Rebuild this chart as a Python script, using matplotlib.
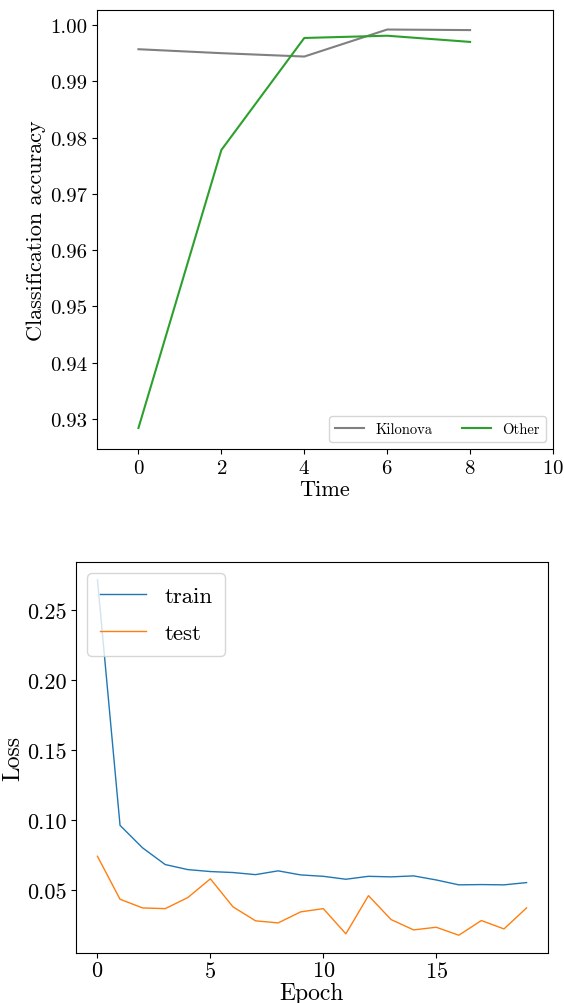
import matplotlib
matplotlib.use("Agg")
import matplotlib.pyplot as plt

# --- Data ---
time_steps = [0, 2, 4, 6, 8]
acc_kilonova = [0.9957, 0.9950, 0.9944, 0.9992, 0.9991]
acc_other = [0.9284, 0.9778, 0.9977, 0.9981, 0.9970]

epochs = list(range(20))
train_loss = [0.2716, 0.0961, 0.0800, 0.0681, 0.0645, 0.0631, 0.0624, 0.0609,
              0.0636, 0.0607, 0.0597, 0.0576, 0.0597, 0.0593, 0.0600, 0.0571,
              0.0536, 0.0538, 0.0536, 0.0552]
test_loss = [0.0740, 0.0433, 0.0371, 0.0366, 0.0445, 0.0579, 0.0379, 0.0279,
             0.0264, 0.0343, 0.0366, 0.0186, 0.0459, 0.0288, 0.0214, 0.0233,
             0.0176, 0.0281, 0.0221, 0.0371]

# LaTeX-like look without a TeX install
plt.rcParams["font.family"] = "serif"
plt.rcParams["font.serif"] = ["cmr10", "DejaVu Serif"]
plt.rcParams["mathtext.fontset"] = "cm"
plt.rcParams["axes.formatter.use_mathtext"] = True
plt.rcParams["axes.unicode_minus"] = False

fig = plt.figure(figsize=(5.64, 10.04), dpi=100)

# 1) accuracy vs time
ax1 = fig.add_axes([97 / 564, 1 - 450 / 1004, 456 / 564, 439 / 1004])
ax1.plot(time_steps, acc_kilonova, color="gray", lw=1.5, label="Kilonova")
ax1.plot(time_steps, acc_other, color="tab:green", lw=1.5, label="Other")
ax1.set_xlim(-1, 10)
ax1.set_ylim(0.92467, 1.00267)
ax1.set_xticks([0, 2, 4, 6, 8, 10])
ax1.set_yticks([0.93, 0.94, 0.95, 0.96, 0.97, 0.98, 0.99, 1.00])
ax1.set_yticklabels(["0.93", "0.94", "0.95", "0.96", "0.97", "0.98", "0.99", "1.00"])
ax1.tick_params(labelsize=15)
ax1.set_xlabel("Time", fontsize=16, labelpad=2)
ax1.set_ylabel("Classification accuracy", fontsize=16, labelpad=3)
ax1.legend(loc="lower right", ncol=2, fontsize=10.5)

# 2) training curves
ax2 = fig.add_axes([76 / 564, 1 - 954 / 1004, 472 / 564, 391 / 1004])
ax2.plot(epochs, train_loss, color="tab:blue", lw=1, label="train")
ax2.plot(epochs, test_loss, color="tab:orange", lw=1, label="test")
ax2.set_yticks([0.05, 0.10, 0.15, 0.20, 0.25])
ax2.set_yticklabels(["0.05", "0.10", "0.15", "0.20", "0.25"])
ax2.tick_params(labelsize=16)
ax2.tick_params(axis="x", pad=2)
ax2.set_xlabel("Epoch", fontsize=17, labelpad=1)
ax2.set_ylabel("Loss", fontsize=17, labelpad=2)
ax2.legend(loc="upper left", fontsize=16.5, labelspacing=0.75, borderpad=0.55)

fig.savefig("out.png", dpi=100)
